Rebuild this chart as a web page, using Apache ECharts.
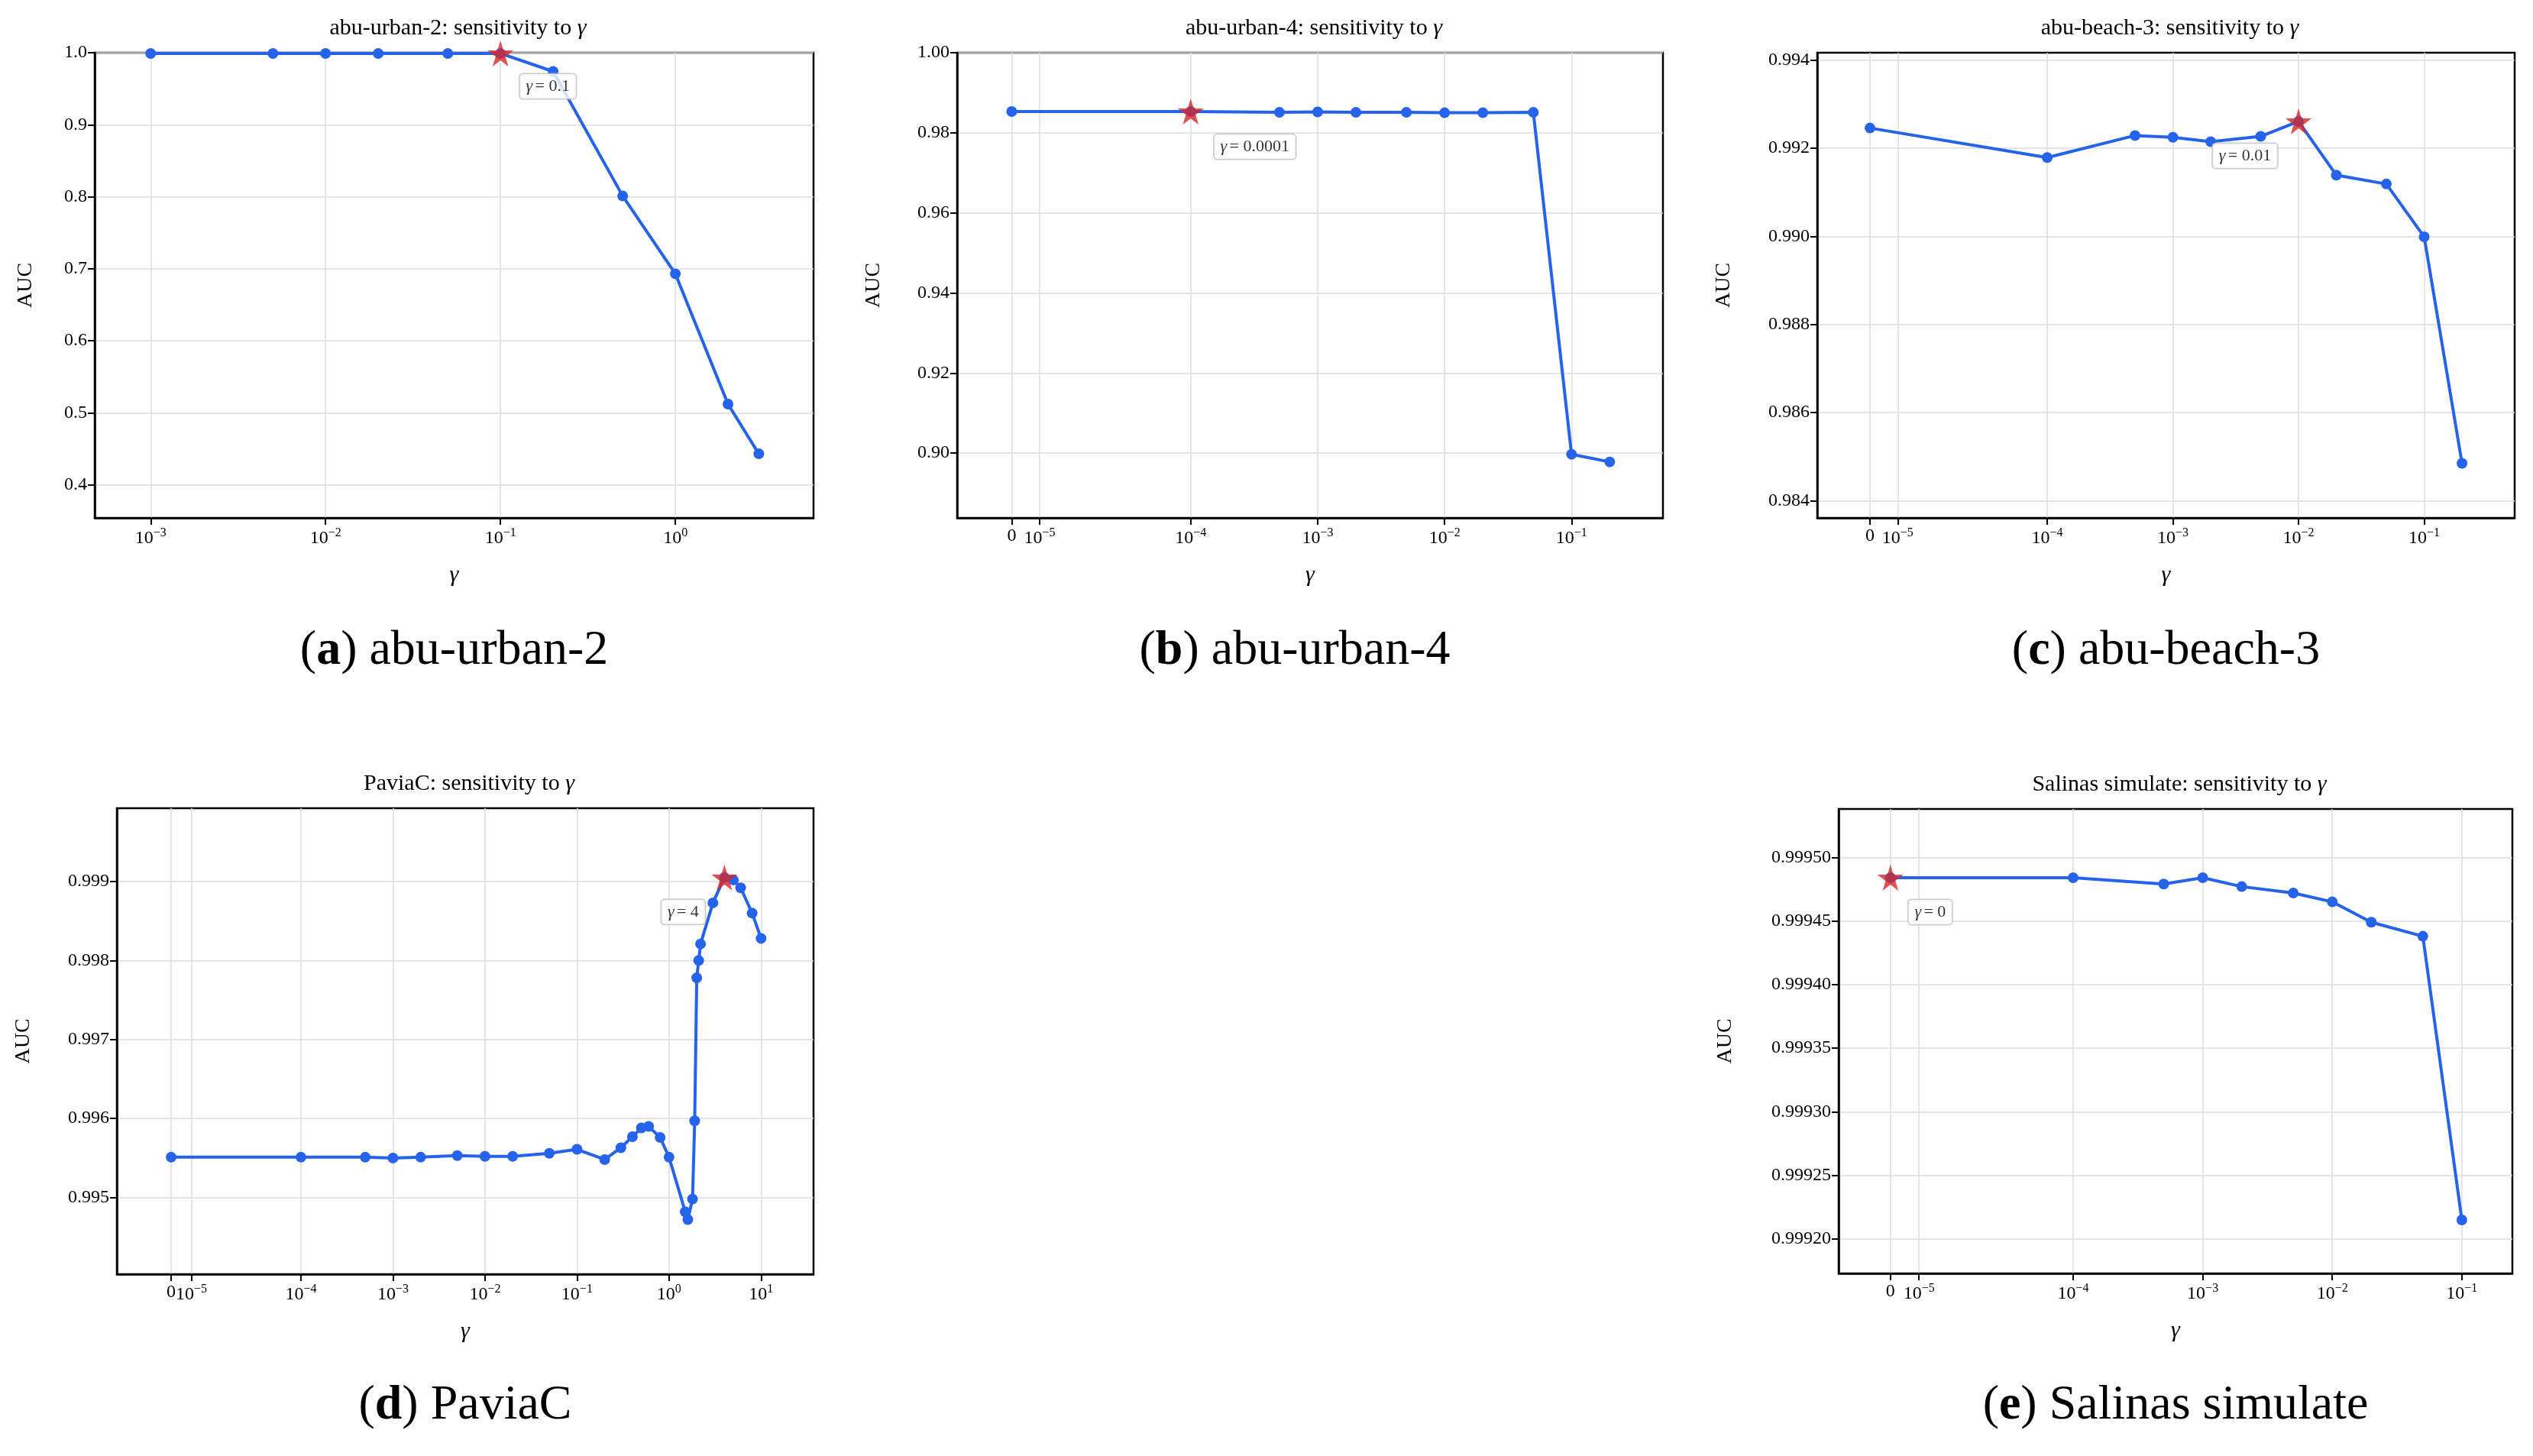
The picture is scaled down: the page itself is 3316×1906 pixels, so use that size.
<!DOCTYPE html>
<html><head><meta charset="utf-8">
<script src="https://cdn.jsdelivr.net/npm/echarts@6/dist/echarts.min.js"></script>
<style>html,body{margin:0;padding:0;background:#fff}#c{width:3316px;height:1906px}</style>
</head><body><div id="c"></div>
<script>
// ---- data ----
const titlesA = ['abu-urban-2','abu-urban-4','abu-beach-3','PaviaC','Salinas simulate'];
const letters = ['a','b','c','d','e'];
const gammaA = [0.001,0.005,0.01,0.02,0.05,0.1,0.2,0.5,1,2,3];
const aucA   = [0.999,0.999,0.999,0.999,0.999,0.999,0.974,0.801,0.693,0.512,0.443];
const gammaB = [0,0.0001,0.0005,0.001,0.002,0.005,0.01,0.02,0.05,0.1,0.2];
const aucB   = [0.9853,0.9853,0.9851,0.9852,0.9851,0.9851,0.9850,0.9850,0.9851,0.8997,0.8978];
const gammaC = [0,0.0001,0.0005,0.001,0.002,0.005,0.01,0.02,0.05,0.1,0.2];
const aucC   = [0.99246,0.99179,0.99229,0.99225,0.99215,0.99227,0.99261,0.99139,0.99119,0.98999,0.98485];
const gammaD = [0,0.0001,0.0005,0.001,0.002,0.005,0.01,0.02,0.05,0.1,0.2,0.3,0.4,0.5,0.6,0.8,1.0,1.5,1.6,1.8,1.9,2.0,2.1,2.2,3,4,5,6,8,10];
const aucD   = [0.99551,0.99551,0.99551,0.99550,0.99551,0.99553,0.99552,0.99552,0.99556,0.99561,0.99548,0.99563,0.99577,0.99588,0.99590,0.99576,0.99551,0.99482,0.99472,0.99498,0.99597,0.99778,0.99800,0.99821,0.99873,0.99905,0.99902,0.99892,0.99860,0.99828];
const gammaE = [0,0.0001,0.0005,0.001,0.002,0.005,0.01,0.02,0.05,0.1];
const aucE   = [0.999484,0.999484,0.999479,0.999484,0.999477,0.999472,0.999465,0.999449,0.999438,0.999215];
const bestGamma = [0.1,0.0001,0.01,4,0];
const bestLabel = ['0.1','0.0001','0.01','4','0'];
const yTicksA = [0.4,0.5,0.6,0.7,0.8,0.9,1.0];
const yTicksB = [0.90,0.92,0.94,0.96,0.98,1.00];
const yTicksC = [0.984,0.986,0.988,0.990,0.992,0.994];
const yTicksD = [0.995,0.996,0.997,0.998,0.999];
const yTicksE = [0.99920,0.99925,0.99930,0.99935,0.99940,0.99945,0.99950];
const xTicksA = ['1e-3','1e-2','1e-1','1e0'];
const xTicksB = ['0','1e-5','1e-4','1e-3','1e-2','1e-1'];
const xTicksD = ['0','1e-5','1e-4','1e-3','1e-2','1e-1','1e0','1e1'];

// symlog-like position mapping (as in the reference axis)
function pos(g){ if(g===0) return -5.41; if(g<=1e-5) return -5.19; return Math.log10(g); }
function tickPos(s){ return s==='0'?-5.41:(s==='1e-5'?-5.19:Math.log10(Number(s))); }

const panels = [
 {g:gammaA,a:aucA,yt:yTicksA,xt:xTicksA,dec:1,box:[124,69,1065,678],xr:[-3.32,0.79],yr:[0.354,1.0],ng:76,off:[62,43]},
 {g:gammaB,a:aucB,yt:yTicksB,xt:xTicksB,dec:2,box:[1253,69,2177,678],xr:[-5.84,-0.28],yr:[0.8838,1.0],ng:95,off:[84,46]},
 {g:gammaC,a:aucC,yt:yTicksC,xt:xTicksB,dec:3,box:[2379,69,3292,678],xr:[-5.83,-0.28],yr:[0.98361,0.99417],ng:108,off:[-70,45]},
 {g:gammaD,a:aucD,yt:yTicksD,xt:xTicksD,dec:3,box:[153,1058,1065,1668],xr:[-6.0,1.57],yr:[0.994029,0.999928],ng:108,off:[-54,45]},
 {g:gammaE,a:aucE,yt:yTicksE,xt:xTicksB,dec:5,box:[2407,1059,3289,1667],xr:[-5.81,-0.61],yr:[0.999173,0.999538],ng:134,off:[52,45]}
];
const FONT='Liberation Serif';
const BLUE='#2563eb', RED='#d62728';
const star='path://M50,0 L61,35 L98,35 L68,57 L79,91 L50,70 L21,91 L32,57 L2,35 L39,35 Z';
const grid=[],xAxis=[],yAxis=[],series=[],title=[],graphic=[];
function xlab(s){ if(s==='0') return '{n|0}'; const e=s.split('e')[1].replace('-','−'); return '{n|10}{s|'+e+'}'; }
panels.forEach((p,i)=>{
  const [l,t,r,b]=p.box;
  grid.push({left:l,top:t,width:r-l,height:b-t,show:true,borderColor:'#000',borderWidth:2.5,backgroundColor:'transparent'});
  xAxis.push({type:'value',gridIndex:i,min:p.xr[0],max:p.xr[1],
    name:'γ',nameLocation:'middle',nameGap:60,nameTextStyle:{fontFamily:FONT,fontSize:30,fontStyle:'italic',color:'#000'},
    axisLine:{show:true,onZero:false,lineStyle:{color:'#000',width:2.5}},
    axisTick:{show:true,length:9,lineStyle:{color:'#000',width:2},customValues:p.xt.map(tickPos)},
    axisLabel:{customValues:p.xt.map(tickPos),margin:12,formatter:v=>{const s=p.xt.find(q=>Math.abs(tickPos(q)-v)<1e-6);return s?xlab(s):'';},
      rich:{n:{fontFamily:FONT,fontSize:24,color:'#000'},s:{fontFamily:FONT,fontSize:16,color:'#000',padding:[0,0,13,0]}}},
    splitLine:{show:true,lineStyle:{color:'#dcdcdc',width:1.5}}});
  yAxis.push({type:'value',gridIndex:i,min:p.yr[0],max:p.yr[1],
    name:'AUC',nameLocation:'middle',nameGap:p.ng,nameTextStyle:{fontFamily:FONT,fontSize:28,color:'#000'},
    axisLine:{show:true,onZero:false,lineStyle:{color:'#000',width:2.5}},
    axisTick:{show:true,length:9,lineStyle:{color:'#000',width:2},customValues:p.yt},
    axisLabel:{customValues:p.yt,fontFamily:FONT,fontSize:24,color:'#000',margin:10,formatter:v=>v.toFixed(p.dec)},
    splitLine:{show:true,lineStyle:{color:'#dcdcdc',width:1.5}}});
  series.push({type:'line',xAxisIndex:i,yAxisIndex:i,data:p.g.map((g,k)=>[pos(g),p.a[k]]),
    symbol:'circle',symbolSize:14,lineStyle:{color:BLUE,width:4},itemStyle:{color:BLUE},z:3,animation:false});
  const k=p.g.indexOf(bestGamma[i]);
  series.push({type:'scatter',xAxisIndex:i,yAxisIndex:i,data:[[pos(bestGamma[i]),p.a[k]]],symbol:star,symbolSize:34,
    itemStyle:{color:RED},z:5,animation:false,
    label:{show:true,position:'inside',offset:p.off,formatter:'{g|γ} {t|= '+bestLabel[i]+'}',backgroundColor:'#fff',
      borderColor:'#bdbdbd',borderWidth:1.5,borderRadius:4,padding:[5,8],
      rich:{g:{fontFamily:FONT,fontSize:22,fontStyle:'italic',color:'#000'},t:{fontFamily:FONT,fontSize:22,color:'#000'}}}});
  title.push({text:'{n|'+titlesA[i]+': sensitivity to }{g|γ}',left:(l+r)/2,top:t-52,textAlign:'center',
    textStyle:{fontWeight:'normal',rich:{n:{fontFamily:FONT,fontSize:30,fontWeight:'normal',color:'#000'},g:{fontFamily:FONT,fontSize:30,fontWeight:'normal',fontStyle:'italic',color:'#000'}}}});
  graphic.push({type:'text',x:(l+r)/2-(i===1?20:0),y:(i<3?852:1840),style:{text:'({b|'+letters[i]+'}) '+titlesA[i],
    rich:{b:{fontFamily:FONT,fontSize:64,fontWeight:'bold',fill:'#000'}},
    font:'64px "Liberation Serif"',fill:'#000',align:'center',verticalAlign:'middle'}});
});
const chart=echarts.init(document.getElementById('c'),null,{renderer:'canvas'});
chart.setOption({backgroundColor:'#fff',animation:false,grid,xAxis,yAxis,series,title,graphic});
</script></body></html>
